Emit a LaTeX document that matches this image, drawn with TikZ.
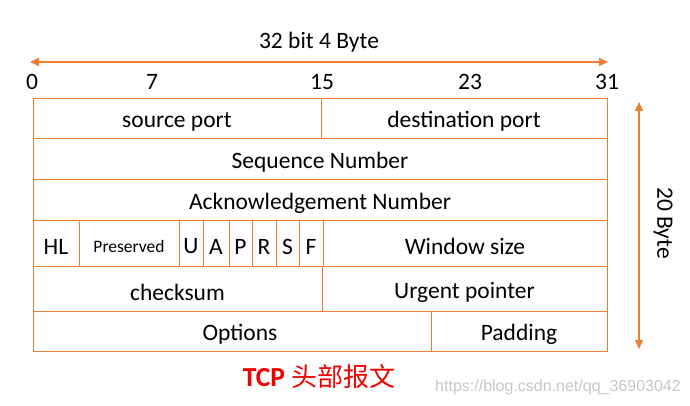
\documentclass[tikz,border=0pt]{standalone}
\usepackage{fontspec}
\setmainfont{Carlito}
\newfontfamily\cjkfont{Noto Sans CJK SC}
\newfontfamily\wmfont{Liberation Sans}
\usetikzlibrary{arrows.meta}
\definecolor{lineor}{HTML}{ED7D31}
\definecolor{titlered}{HTML}{F00000}
\tikzset{
  cellbox/.style={draw=lineor, line width=0.9pt, inner sep=0pt, outer sep=0pt, rectangle,
    font=\fontsize{23.5}{28}\selectfont, text=black},
  smallcell/.style={cellbox, font=\fontsize{17.5}{21}\selectfont},
  bitnum/.style={font=\fontsize{23.5}{28}\selectfont, text=black, inner sep=0pt},
  dimarrow/.style={draw=lineor, line width=1.1pt, {Triangle[length=9pt,width=8pt]}-{Triangle[length=9pt,width=8pt]}},
}
\newcommand{\cellat}[7]{% style, name, x1, x2, y1, y2, text
  \node[#1, minimum width={#4-#3}, minimum height={#6-#5}] (#2) at ({(#3+#4)/2},{(#5+#6)/2}) {\raisebox{-3.5pt}[\height][\depth]{#7}};}
\begin{document}
\begin{tikzpicture}[x=1pt,y=-1pt]
\useasboundingbox (0,0) rectangle (690,406);
% top dimension
\coordinate (tl) at (30,62);
\coordinate (tr) at (608,62);
\draw[dimarrow] (tl) -- (tr);
\node[bitnum] (width) at (319,42) {32 bit 4 Byte};
\node[bitnum] (b0) at (32,82) {0};
\node[bitnum] (b7) at (152,82) {7};
\node[bitnum] (b15) at (322,82) {15};
\node[bitnum] (b23) at (470,82) {23};
\node[bitnum] (b31) at (607,82) {31};
% right dimension
\coordinate (rt) at (639,102);
\coordinate (rb) at (639,349);
\draw[dimarrow] (rt) -- (rb);
\node[bitnum, rotate=-90] (height) at (663,223) {20 Byte};
% rows
\cellat{cellbox}{sport}{33}{321}{98}{138}{source port}
\cellat{cellbox}{dport}{321}{607}{98}{138}{destination port}
\cellat{cellbox}{seq}{33}{607}{138}{179}{Sequence Number}
\cellat{cellbox}{ack}{33}{607}{179}{220}{Acknowledgement Number}
\cellat{cellbox}{hl}{33}{79}{220}{266}{HL}
\cellat{smallcell}{pres}{79}{179}{220}{266}{Preserved}
\cellat{cellbox}{fu}{179}{203}{220}{266}{U}
\cellat{cellbox}{fa}{203}{229}{220}{266}{A}
\cellat{cellbox}{fp}{229}{252}{220}{266}{P}
\cellat{cellbox}{fr}{252}{276}{220}{266}{R}
\cellat{cellbox}{fs}{276}{299}{220}{266}{S}
\cellat{cellbox}{ff}{299}{323}{220}{266}{F}
\cellat{cellbox}{win}{323}{607}{220}{266}{Window size}
\cellat{cellbox}{csum}{33}{322}{266}{311}{checksum}
\cellat{cellbox}{urg}{322}{607}{266}{311}{Urgent pointer}
\cellat{cellbox}{opt}{33}{431}{311}{351}{\hspace*{16pt}Options}
\cellat{cellbox}{pad}{431}{607}{311}{351}{Padding}
% caption
\node[inner sep=0pt, text=titlered] (title) at (319,377)
  {\fontsize{27.5}{32}\selectfont\bfseries TCP \cjkfont\mdseries\fontsize{26}{32}\selectfont 头部报文};
\node[inner sep=0pt, text=black!22] (wm) at (558,387)
  {\wmfont\fontsize{16}{19}\selectfont https://blog.csdn.net/qq\_36903042};
\end{tikzpicture}
\end{document}
